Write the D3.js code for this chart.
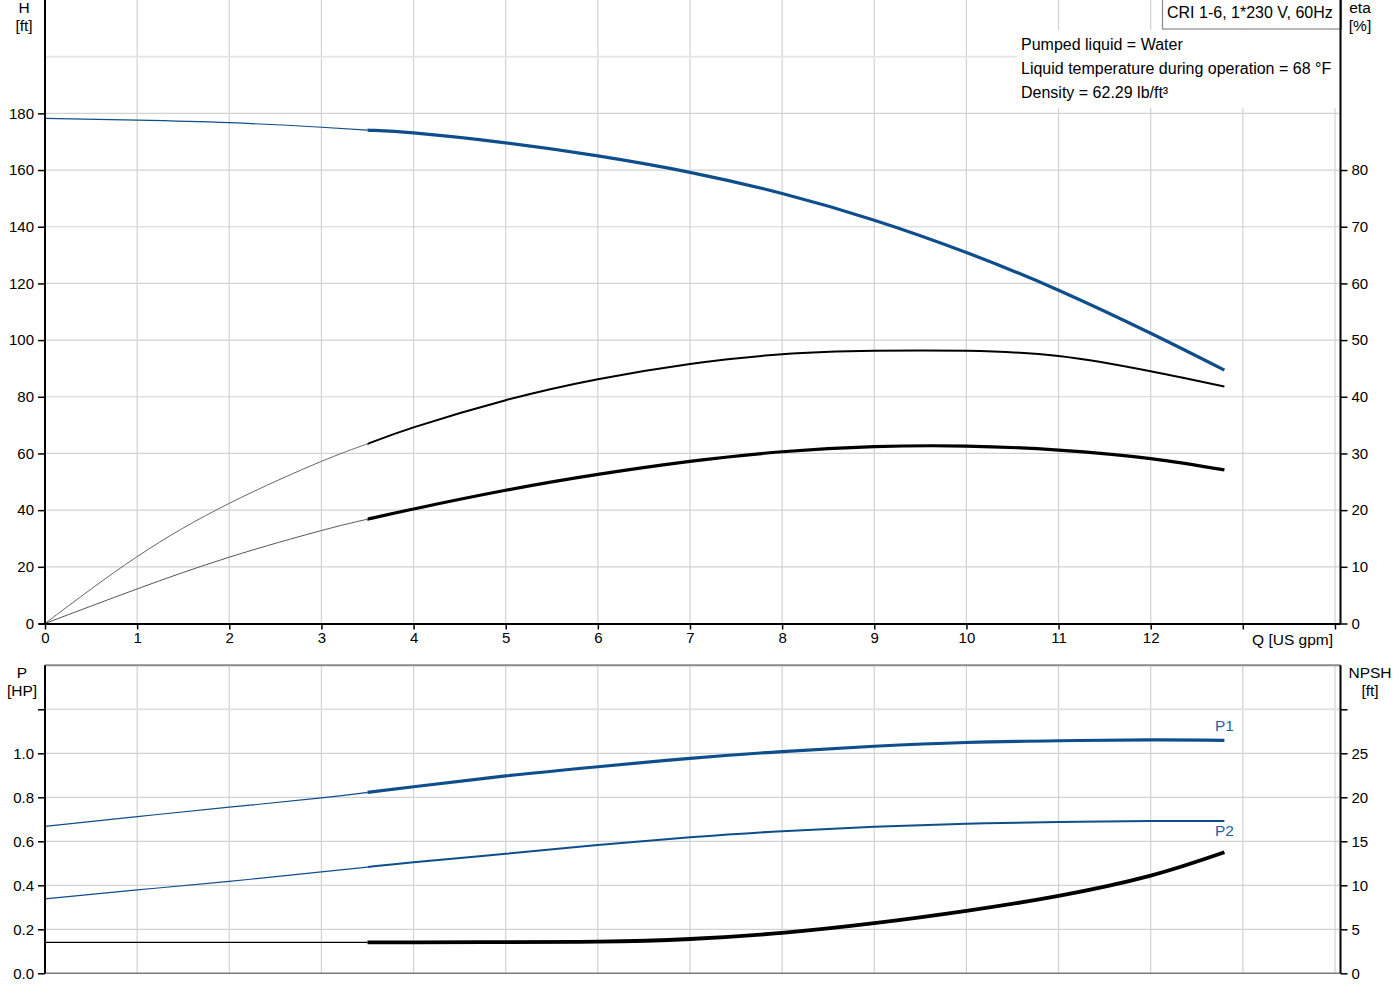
<!DOCTYPE html>
<html><head><meta charset="utf-8">
<script src="https://cdn.jsdelivr.net/npm/d3@7/dist/d3.min.js"></script>
<style>
body{margin:0;background:#fff;}
svg{display:block;font-family:"Liberation Sans",Arial,sans-serif;}
.tick text{font-size:15px;fill:#000;font-family:"Liberation Sans",Arial,sans-serif;}
.tick line{stroke:#000;stroke-width:1.5;}
</style></head>
<body>
<svg id="c" width="1400" height="1000"></svg>
<script>
// ---- data ----
const flowQ   = [0, 1, 2, 3, 3.5, 4, 5, 6, 7, 8, 9, 10, 11, 12, 12.8];
const headH   = [178.2, 177.6, 176.7, 175.1, 174.1, 173.1, 169.6, 165.0, 159.2, 151.7, 142.3, 130.9, 117.6, 102.4, 89.4];
const etaPump = [0, 11.8, 21.2, 28.6, 31.7, 34.6, 39.4, 43.1, 45.8, 47.5, 48.1, 48.1, 47.2, 44.5, 41.8];
const etaTot  = [0, 6.1, 11.7, 16.4, 18.4, 20.2, 23.5, 26.3, 28.6, 30.3, 31.2, 31.3, 30.6, 29.1, 27.1];
const powerP1 = [0.668, 0.712, 0.755, 0.797, 0.822, 0.848, 0.897, 0.939, 0.977, 1.008, 1.032, 1.049, 1.057, 1.061, 1.059];
const powerP2 = [0.338, 0.379, 0.418, 0.461, 0.483, 0.505, 0.543, 0.583, 0.618, 0.646, 0.666, 0.680, 0.688, 0.692, 0.692];
const npsh    = [3.52, 3.52, 3.52, 3.52, 3.52, 3.52, 3.54, 3.6, 3.9, 4.6, 5.7, 7.1, 8.8, 11.1, 13.75];
const opStart = 3.5;

const xTicks   = [0,1,2,3,4,5,6,7,8,9,10,11,12,13,14];
const xLabels  = [0,1,2,3,4,5,6,7,8,9,10,11,12];
const hTicks   = [0,20,40,60,80,100,120,140,160,180];
const hGrid    = [20,40,60,80,100,120,140,160,180,200];
const etaTicks = [0,10,20,30,40,50,60,70,80];
const pTicks   = [0,0.2,0.4,0.6,0.8,1.0,1.2];
const pLabels  = [0,0.2,0.4,0.6,0.8,1.0];
const nTicks   = [0,5,10,15,20,25,30];
const nLabels  = [0,5,10,15,20,25];

const infoLines = ["Pumped liquid = Water", "Liquid temperature during operation = 68 °F", "Density = 62.29 lb/ft³"];
const title = "CRI 1-6, 1*230 V, 60Hz";

const BLUE = "#0e4e8c";
const svg = d3.select("#c");

// ---- scales ----
const x = d3.scaleLinear().domain([0, 14.06]).range([45, 1340.5]);
const yH = d3.scaleLinear().domain([0, 220]).range([623.5, 0]);
const yE = d3.scaleLinear().domain([0, 110]).range([623.5, 0]);
const yP = d3.scaleLinear().domain([0, 1.4]).range([973.3, 665.3]);
const yN = d3.scaleLinear().domain([0, 35]).range([973.3, 665.3]);

// clip paths for thin / thick parts
const defs = svg.append("defs");
defs.append("clipPath").attr("id","thin").append("rect")
  .attr("x",0).attr("y",0).attr("width",x(opStart)).attr("height",1000);
defs.append("clipPath").attr("id","thick").append("rect")
  .attr("x",x(opStart)).attr("y",0).attr("width",1400-x(opStart)).attr("height",1000);

// ---- grids ----
const g = svg.append("g");
g.selectAll(".vt").data(xTicks.filter(d=>d>0)).enter().append("line")
  .attr("x1",d=>x(d)).attr("x2",d=>x(d)).attr("y1",0).attr("y2",yH(0))
  .attr("stroke","#d2d2d2").attr("stroke-width",1.2);
g.selectAll(".ht").data(hGrid).enter().append("line")
  .attr("x1",x(0)).attr("x2",x(14.06)).attr("y1",d=>yH(d)).attr("y2",d=>yH(d))
  .attr("stroke",d=>d===200?"#e6e6e6":"#d2d2d2").attr("stroke-width",d=>d===200?2:1.2);
g.selectAll(".vb").data(xTicks.filter(d=>d>0)).enter().append("line")
  .attr("x1",d=>x(d)).attr("x2",d=>x(d)).attr("y1",yP(1.4)).attr("y2",yP(0))
  .attr("stroke","#d2d2d2").attr("stroke-width",1.2);
g.selectAll(".hb").data(pTicks.filter(d=>d>0)).enter().append("line")
  .attr("x1",x(0)).attr("x2",x(14.06)).attr("y1",d=>yP(d)).attr("y2",d=>yP(d))
  .attr("stroke",d=>d===1.2?"#e2e2e2":"#d2d2d2").attr("stroke-width",d=>d===1.2?2:1.2);

// ---- info box ----
svg.append("rect").attr("x",1017).attr("y",30).attr("width",323).attr("height",78).attr("fill","#fff");
svg.append("rect").attr("x",1162.5).attr("y",-1).attr("width",179).attr("height",30)
  .attr("fill","#fff").attr("stroke","#8a8a8a").attr("stroke-width",1.2);
svg.append("text").attr("x",1167).attr("y",18).attr("font-size",16).text(title);
svg.selectAll(".info").data(infoLines).enter().append("text")
  .attr("x",1021).attr("y",(d,i)=>49.5+i*24).attr("font-size",16).text(d=>d);

// ---- curves ----
function drawCurve(ys, yScale, color, thinW, thickW, thinColor){
  const line = d3.line().x(d=>x(d[0])).y(d=>yScale(d[1])).curve(d3.curveNatural);
  const d = line(flowQ.map((q,i)=>[q,ys[i]]));
  svg.append("path").attr("d",d).attr("clip-path","url(#thin)")
    .attr("fill","none").attr("stroke",thinColor||color).attr("stroke-width",thinW);
  svg.append("path").attr("d",d).attr("clip-path","url(#thick)")
    .attr("fill","none").attr("stroke",color).attr("stroke-width",thickW);
}
drawCurve(headH, yH, BLUE, 1.2, 3.2);
drawCurve(etaPump, yE, "#000", 1, 2, "#666");
drawCurve(etaTot, yE, "#000", 1, 3.2, "#555");
drawCurve(powerP1, yP, BLUE, 1.2, 3.2);
drawCurve(powerP2, yP, BLUE, 1.2, 2);
drawCurve(npsh, yN, "#000", 1.2, 3.8);

svg.append("text").attr("x",x(12.8)).attr("y",yP(1.059)-9).attr("text-anchor","middle")
  .attr("font-size",15.5).attr("fill","#1f5fa8").text("P1");
svg.append("text").attr("x",x(12.8)).attr("y",yP(0.692)+15).attr("text-anchor","middle")
  .attr("font-size",15.5).attr("fill","#1f5fa8").text("P2");

// ---- axes ----
const xa = svg.append("g").attr("transform",`translate(0,${yH(0)})`)
  .call(d3.axisBottom(x).tickValues(xTicks).tickSize(6).tickPadding(3)
    .tickFormat(d=>xLabels.includes(d)?d:""));
xa.select(".domain").remove();
svg.append("line").attr("x1",x(0)-6).attr("x2",x(14.06)).attr("y1",yH(0)+0.5).attr("y2",yH(0)+0.5)
  .attr("stroke","#000").attr("stroke-width",2);
svg.append("text").attr("x",1333).attr("y",645).attr("text-anchor","end").attr("font-size",15.5).text("Q [US gpm]");

const la = svg.append("g").attr("transform",`translate(${x(0)},0)`)
  .call(d3.axisLeft(yH).tickValues(hTicks).tickSize(7).tickPadding(4));
la.select(".domain").remove();
svg.append("line").attr("x1",x(0)).attr("x2",x(0)).attr("y1",0).attr("y2",yH(0)+1)
  .attr("stroke","#000").attr("stroke-width",2);
const ra = svg.append("g").attr("transform",`translate(${x(14.06)},0)`)
  .call(d3.axisRight(yE).tickValues(etaTicks).tickSize(7).tickPadding(4));
ra.select(".domain").remove();
svg.append("line").attr("x1",x(14.06)).attr("x2",x(14.06)).attr("y1",0).attr("y2",yH(0)+1)
  .attr("stroke","#000").attr("stroke-width",2);

svg.append("line").attr("x1",x(0)).attr("x2",x(14.06)).attr("y1",yP(1.4)).attr("y2",yP(1.4))
  .attr("stroke","#8a8a8a").attr("stroke-width",2);
svg.append("line").attr("x1",x(0)).attr("x2",x(14.06)).attr("y1",yP(0)).attr("y2",yP(0))
  .attr("stroke","#7a7a7a").attr("stroke-width",1.6);
const lb = svg.append("g").attr("transform",`translate(${x(0)},0)`)
  .call(d3.axisLeft(yP).tickValues(pTicks).tickSize(7).tickPadding(4)
    .tickFormat(d=>pLabels.includes(d)?d3.format(".1f")(d):""));
lb.select(".domain").remove();
svg.append("line").attr("x1",x(0)).attr("x2",x(0)).attr("y1",yP(1.4)).attr("y2",yP(0))
  .attr("stroke","#000").attr("stroke-width",2);
const rb = svg.append("g").attr("transform",`translate(${x(14.06)},0)`)
  .call(d3.axisRight(yN).tickValues(nTicks).tickSize(7).tickPadding(4)
    .tickFormat(d=>nLabels.includes(d)?d:""));
rb.select(".domain").remove();
svg.append("line").attr("x1",x(14.06)).attr("x2",x(14.06)).attr("y1",yP(1.4)).attr("y2",yP(0))
  .attr("stroke","#000").attr("stroke-width",2);

function lbl(xp, yp, t, anchor){
  svg.append("text").attr("x",xp).attr("y",yp).attr("text-anchor",anchor||"middle").attr("font-size",15.5).text(t);
}
lbl(24,13,"H"); lbl(24,31,"[ft]");
lbl(1360,13,"eta"); lbl(1360,31,"[%]");
lbl(22,678,"P"); lbl(22,696,"[HP]");
lbl(1370,678,"NPSH"); lbl(1370,696,"[ft]");
</script>
</body></html>
